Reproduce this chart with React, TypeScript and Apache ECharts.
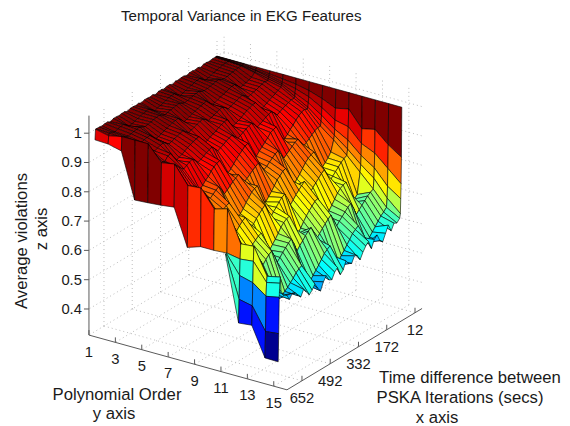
import React, { useEffect, useRef } from "react";
import * as echarts from "echarts";

const TITLE = "Temporal Variance in EKG Features";
const FONT = "'Liberation Sans', Arial, sans-serif";

// Sample positions along the time axis (secs)
const xSamples = [
  12, 14, 16, 18, 20, 24,
  40, 56, 72, 88, 104, 120, 136, 152, 168, 184,
  200, 216, 232, 248, 264, 280, 296, 312, 328, 344,
  360, 376, 392, 408, 424, 440, 456, 472, 488, 504,
  520, 536, 552, 568, 584, 600, 616, 632, 648, 664,
  680, 696,
  700,
  703, 706, 709, 712,
];
const ySamples = [1, 2, 3, 4, 5, 6, 7, 8, 9, 10, 11, 12, 13, 14, 15];

const order1 = [1, 1, 1, 1, 1, 1,
  1, .998, 1, 1, .995, 1, .998, 1, 1, .996,
  1, 1, .998, 1, .995, 1, 1, .997, 1, 1,
  .995, 1, .998, 1, 1, .996, 1, .998, 1, 1,
  .996, 1, 1, .998, 1, 1, .995, 1, 1, .998,
  1, 1,
  1,
  .965, .965, .965, .965];
const order2 = [1, 1, 1, .998, .998, .998,
  .998, .997, .995, .992, .989, .986, .983, .981, .99, .998,
  .997, .995, .992, .989, .986, .983, .98, .99, .998, .997,
  .996, .993, .99, .987, .984, .981, .99, .998, .997, .995,
  .992, .989, .986, .983, .98, .99, .998, .997, .995, .99,
  .995, .998,
  .99,
  .963, .963, .963, .963];
const order3 = [1, 1, .998, .995, .995, .995,
  .995, .994, .992, .99, .988, .986, .99, .995, .994, .992,
  .99, .988, .986, .99, .995, .994, .992, .99, .988, .986,
  .99, .995, .994, .992, .99, .988, .986, .99, .995, .994,
  .992, .99, .988, .986, .99, .995, .994, .992, .99, .988,
  .992, .995,
  1,
  .952, .952, .952, .952];
const order4 = [1, .995, .99, .99, .985, .985,
  .975, .972, .968, .965, .962, .975, .985, .984, .982, .978,
  .975, .971, .968, .964, .962, .974, .986, .984, .982, .978,
  .975, .972, .968, .965, .962, .975, .985, .984, .982, .978,
  .975, .972, .967, .964, .962, .975, .985, .984, .982, .98,
  .984, .98,
  1,
  .797, .797, .797, .797];
const order5 = [1, .99, .985, .98, .975, .97,
  .972, .97, .967, .963, .96, .957, .955, .965, .972, .97,
  .966, .962, .958, .955, .965, .972, .97, .967, .963, .96,
  .956, .965, .972, .97, .966, .962, .958, .955, .964, .973,
  .97, .967, .963, .96, .957, .966, .972, .97, .966, .962,
  .97, .985,
  1,
  .8, .8, .8, .8];
const order6 = [1, .985, .975, .97, .965, .96,
  .955, .95, .945, .94, .935, .93, .925, .94, .96, .958,
  .954, .95, .945, .938, .934, .93, .924, .94, .96, .958,
  .955, .95, .944, .94, .935, .93, .926, .94, .96, .958,
  .954, .95, .945, .94, .934, .93, .925, .94, .96, .958,
  .945, .95,
  .948,
  .804, .804, .804, .804];
const order7 = [1, .98, .965, .95, .94, .935,
  .935, .932, .928, .923, .918, .913, .925, .936, .933, .928,
  .922, .917, .912, .926, .937, .934, .929, .923, .918, .913,
  .926, .936, .933, .928, .922, .917, .912, .925, .937, .933,
  .929, .923, .918, .913, .926, .936, .932, .927, .92, .928,
  .94, .95,
  .956,
  .81, .81, .81, .81];
const order8 = [1, .97, .95, .93, .915, .91,
  .915, .912, .905, .896, .885, .876, .865, .856, .85, .88,
  .914, .91, .906, .894, .884, .874, .866, .854, .848, .878,
  .916, .912, .904, .895, .886, .875, .864, .855, .851, .882,
  .915, .911, .905, .896, .884, .876, .865, .856, .87, .88,
  .885, .89,
  .895,
  .685, .685, .685, .685];
const order9 = [1, .955, .925, .9, .88, .865,
  .865, .86, .853, .845, .838, .83, .85, .867, .862, .854,
  .846, .838, .83, .85, .868, .863, .855, .847, .838, .832,
  .85, .866, .86, .853, .845, .837, .83, .85, .868, .862,
  .855, .846, .838, .831, .85, .867, .861, .853, .845, .855,
  .875, .885,
  .899,
  .7, .7, .7, .7];
const order10 = [1, .935, .895, .865, .845, .83,
  .795, .78, .77, .76, .755, .79, .83, .826, .82, .81,
  .797, .783, .772, .76, .753, .79, .832, .828, .818, .81,
  .795, .782, .77, .758, .755, .788, .83, .827, .82, .808,
  .796, .781, .77, .76, .755, .79, .83, .826, .82, .8,
  .81, .825,
  .84,
  .7, .7, .7, .7];
const order11 = [1, .945, .885, .84, .81, .79,
  .785, .778, .768, .758, .748, .738, .765, .787, .78, .77,
  .76, .75, .738, .765, .788, .78, .77, .76, .748, .737,
  .765, .786, .78, .77, .758, .748, .735, .765, .788, .78,
  .77, .76, .748, .738, .765, .787, .78, .77, .758, .77,
  .8, .825,
  .853,
  .703, .703, .703, .703];
const order12 = [1, .89, .84, .8, .77, .745,
  .675, .665, .66, .7, .74, .736, .73, .72, .705, .69,
  .677, .666, .658, .7, .742, .738, .728, .718, .706, .692,
  .676, .664, .66, .698, .74, .737, .73, .72, .704, .69,
  .678, .665, .66, .7, .74, .736, .728, .72, .705, .69,
  .72, .74,
  .746,
  .695, .64, .56, .48];
const order13 = [1, .9, .82, .77, .735, .7,
  .695, .688, .678, .668, .658, .648, .675, .697, .69, .68,
  .67, .66, .648, .675, .698, .69, .68, .67, .658, .647,
  .675, .696, .69, .68, .668, .658, .645, .675, .698, .69,
  .68, .67, .658, .648, .675, .697, .69, .68, .668, .69,
  .71, .735,
  .75,
  .7, .628, .55, .485];
const order14 = [1, .86, .78, .72, .68, .65,
  .64, .632, .62, .607, .595, .583, .57, .562, .6, .645,
  .638, .63, .616, .603, .59, .578, .565, .556, .595, .635,
  .628, .62, .606, .592, .58, .568, .555, .548, .585, .625,
  .62, .612, .6, .59, .58, .572, .565, .56, .58, .6,
  .625, .65,
  .66,
  .64, .594, .475, .386];
const order15 = [1, .83, .74, .69, .64, .625,
  .615, .62, .6, .625, .603, .58, .59, .615, .605, .58,
  .61, .6, .585, .565, .585, .59, .57, .575, .59, .565,
  .555, .585, .575, .555, .56, .58, .565, .54, .555, .575,
  .56, .55, .565, .58, .56, .57, .585, .59, .575, .595,
  .6, .62,
  .67,
  .65, .603, .48, .385];
const surface = [order1, order2, order3, order4, order5, order6, order7, order8,
  order9, order10, order11, order12, order13, order14, order15];

// Colour values for the cells whose shade differs from their first corner: [row, col, value]
const colourOverrides = [
  [0, 48, .94], [1, 48, .92],
  [10, 49, .64], [10, 50, .64], [10, 51, .64],
  [11, 49, .63], [11, 50, .53], [11, 51, .46],
  [12, 49, .74], [12, 50, .53], [12, 51, .46],
  [13, 48, .62], [13, 49, .62], [13, 50, .46], [13, 51, .38],
];

const xTicks = [12, 172, 332, 492, 652];
const yTicks = [1, 3, 5, 7, 9, 11, 13, 15];
const zTicks = [0.4, 0.5, 0.6, 0.7, 0.8, 0.9, 1];
const zTickLabels = ["0.4", "0.5", "0.6", "0.7", "0.8", "0.9", "1"];

const X_MIN = -28, X_MAX = 737, Y_MIN = 1, Y_MAX = 16, Z_MIN = 0.311, Z_MAX = 1.06;
const C_MIN = 0.37, C_MAX = 1;

function project(x: number, y: number, z: number): number[] {
  return [
    217 + 13.2 * (y - 1) - 0.1766 * (x - 12),
    258 + 3.65 * (y - 1) + 0.1063 * (x - 12) - 293 * (z - 0.311),
  ];
}

function jet(value: number): string {
  const v = Math.max(0, Math.min(1, (value - C_MIN) / (C_MAX - C_MIN)));
  const c = (d: number) => Math.round(255 * Math.max(0, Math.min(1, 1.5 - Math.abs(4 * v - d))));
  return `rgb(${c(3)},${c(2)},${c(1)})`;
}

const axisColor = "#5a5a5a";
const gridColor = "#bdbdbd";
const textColor = "#1a1a1a";
const TICK_FONT = 14.8;
const NAME_FONT = 16.7;

type Seg = { a: number[]; b: number[]; kind: "grid" | "axis" };
const segments: Seg[] = [];
const grid3 = (p: number[], q: number[]) => segments.push({ a: project(p[0], p[1], p[2]), b: project(q[0], q[1], q[2]), kind: "grid" });
for (const z of zTicks) {
  grid3([X_MIN, Y_MIN, z], [X_MIN, Y_MAX, z]);
  grid3([X_MIN, Y_MIN, z], [X_MAX, Y_MIN, z]);
}
for (const y of yTicks) {
  grid3([X_MIN, y, Z_MIN], [X_MIN, y, Z_MAX]);
  grid3([X_MIN, y, Z_MIN], [X_MAX, y, Z_MIN]);
}
for (const x of xTicks) {
  grid3([x, Y_MIN, Z_MIN], [x, Y_MIN, Z_MAX]);
  grid3([x, Y_MIN, Z_MIN], [x, Y_MAX, Z_MIN]);
}
const axis3 = (p: number[], q: number[]) => segments.push({ a: project(p[0], p[1], p[2]), b: project(q[0], q[1], q[2]), kind: "axis" });
axis3([X_MAX, Y_MIN, Z_MIN], [X_MAX, Y_MIN, Z_MAX]);
axis3([X_MAX, Y_MIN, Z_MIN], [X_MAX, Y_MAX, Z_MIN]);
axis3([X_MAX, Y_MAX, Z_MIN], [X_MIN, Y_MAX, Z_MIN]);
const tick = (p: number[], dx: number, dy: number) => {
  const a = project(p[0], p[1], p[2]);
  segments.push({ a, b: [a[0] + dx, a[1] + dy], kind: "axis" });
};
for (const z of zTicks) tick([X_MAX, Y_MIN, z], -5, 0);
for (const y of yTicks) tick([X_MAX, y, Z_MIN], 0, -5);
for (const x of xTicks) tick([x, Y_MAX, Z_MIN], 0, -5);

type Label = { text: string; pos: number[]; align: string };
const labels: Label[] = [];
zTicks.forEach((z, i) => {
  const p = project(X_MAX, Y_MIN, z);
  labels.push({ text: zTickLabels[i], pos: [p[0] - 7, p[1]], align: "right" });
});
yTicks.forEach((y) => {
  const p = project(X_MAX, y, Z_MIN);
  labels.push({ text: String(y), pos: [p[0], p[1] + 16.5], align: "center" });
});
xTicks.forEach((x) => {
  const p = project(x, Y_MAX, Z_MIN);
  labels.push({ text: String(x), pos: [p[0], p[1] + 17], align: "center" });
});

const cells: any[] = [];
for (let r = 0; r < ySamples.length - 1; r++) {
  for (let c = 0; c < xSamples.length - 1; c++) {
    // Cells with no height change at the closing samples would only stack their outlines.
    if (surface[r][c] === surface[r][c + 1] && surface[r + 1][c] === surface[r + 1][c + 1] && c > 48) continue;
    const over = colourOverrides.find((o) => o[0] === r && o[1] === c);
    cells.push({
      value: [r, c],
      points: [
        project(xSamples[c], ySamples[r], surface[r][c]),
        project(xSamples[c + 1], ySamples[r], surface[r][c + 1]),
        project(xSamples[c + 1], ySamples[r + 1], surface[r + 1][c + 1]),
        project(xSamples[c], ySamples[r + 1], surface[r + 1][c]),
      ],
      fill: jet(over ? over[2] : surface[r][c]),
    });
  }
}

const axisTitles = [
  { text: "Average violations", x: 21, y: 241, rotation: Math.PI / 2 },
  { text: "z axis", x: 41, y: 229, rotation: Math.PI / 2 },
  { text: "Polynomial Order", x: 117, y: 394, rotation: 0 },
  { text: "y axis", x: 114, y: 413, rotation: 0 },
  { text: "Time difference between", x: 470, y: 377, rotation: 0 },
  { text: "PSKA Iterations (secs)", x: 460, y: 397, rotation: 0 },
  { text: "x axis", x: 437, y: 417, rotation: 0 },
];

export default function App() {
  const ref = useRef<HTMLDivElement>(null);
  useEffect(() => {
    document.body.style.margin = "0";
    const chart = echarts.init(ref.current!, undefined, { renderer: "svg" });
    chart.setOption({
      animation: false,
      backgroundColor: "#ffffff",
      title: {
        text: TITLE,
        left: 116,
        top: 3,
        textStyle: { fontSize: 15.1, fontWeight: "normal", fontFamily: FONT, color: textColor },
      },
      grid: { left: 0, right: 0, top: 0, bottom: 0 },
      xAxis: { type: "value", min: 0, max: 570, show: false },
      yAxis: { type: "value", min: 0, max: 426, inverse: true, show: false },
      graphic: axisTitles.map((t) => ({
        type: "text",
        x: t.x,
        y: t.y,
        rotation: t.rotation,
        silent: true,
        style: {
          text: t.text,
          fontSize: NAME_FONT,
          fontFamily: FONT,
          fill: textColor,
          align: "center",
          verticalAlign: "middle",
        },
      })),
      series: [
        {
          type: "custom",
          coordinateSystem: "cartesian2d",
          clip: false,
          silent: true,
          data: segments.map((s, i) => ({ value: [i] })),
          encode: { x: [], y: [] },
          renderItem: (params: any, api: any) => {
            const s = segments[params.dataIndex];
            const a = api.coord(s.a);
            const b = api.coord(s.b);
            return {
              type: "line",
              shape: { x1: a[0], y1: a[1], x2: b[0], y2: b[1] },
              style: s.kind === "grid"
                ? { stroke: gridColor, lineWidth: 1, lineDash: [1, 3] }
                : { stroke: axisColor, lineWidth: 1 },
            };
          },
        },
        {
          type: "custom",
          coordinateSystem: "cartesian2d",
          clip: false,
          silent: true,
          data: labels.map((l, i) => ({ value: [i] })),
          encode: { x: [], y: [] },
          renderItem: (params: any, api: any) => {
            const l = labels[params.dataIndex];
            const p = api.coord(l.pos);
            return {
              type: "text",
              x: p[0],
              y: p[1],
              style: {
                text: l.text,
                fontSize: TICK_FONT,
                fontFamily: FONT,
                fill: textColor,
                align: l.align,
                verticalAlign: "middle",
              },
            };
          },
        },
        {
          type: "custom",
          coordinateSystem: "cartesian2d",
          clip: false,
          silent: true,
          z: 5,
          data: cells.map((c) => ({ value: c.value })),
          encode: { x: [], y: [] },
          renderItem: (params: any, api: any) => {
            const cell = cells[params.dataIndex];
            return {
              type: "polygon",
              shape: { points: cell.points.map((p: number[]) => api.coord(p)) },
              style: { fill: cell.fill, stroke: "#000000", lineWidth: 0.6, lineJoin: "round" },
            };
          },
        },
      ],
    });
    return () => chart.dispose();
  }, []);
  return <div ref={ref} style={{ width: 570, height: 426 }} />;
}
